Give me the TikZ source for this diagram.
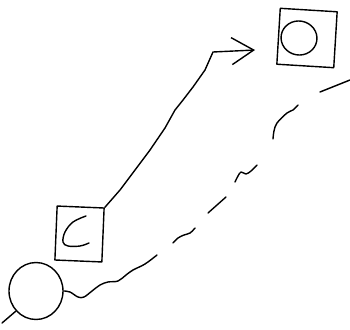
\documentclass[tikz,border=0pt]{standalone}
\usetikzlibrary{arrows.meta,shapes.geometric}
\begin{document}
\begin{tikzpicture}[x=1pt,y=-1pt,
  pen/.style={line width=1.4pt,line cap=round,line join=round,black},
  sketchbox/.style={pen,draw,rectangle,inner sep=0pt},
  sketchring/.style={pen,draw,ellipse,inner sep=0pt}]
\useasboundingbox (0,0) rectangle (350,329);
% boxes
\node[sketchbox,minimum width=47pt,minimum height=54pt,rotate=-2.4] (cbox) at (79.5,234) {};
\node[sketchbox,minimum width=57pt,minimum height=56pt,rotate=-3.5] (obox) at (307,38) {};
\node[sketchring,minimum width=36pt,minimum height=34pt,rotate=-10] (oring) at (299,38) {};
\node[sketchring,minimum width=54pt,minimum height=57pt] (ball) at (36,291) {};
% the C
\draw[pen] plot[smooth,tension=0.6] coordinates {(86,216) (73,222) (65,232) (63,242) (68,246) (80,246) (89,243)};
% arrow
\coordinate (bend) at (213,52);
\coordinate (tip) at (255,50);
\draw[pen,-{Straight Barb[length=22pt,width=27pt,line width=1.4pt]}]
  (cbox.north east) -- (120,190) -- (150,150) -- (165,128) -- (175,110) -- (183,100) -- (193,87) -- (205,70) -- (bend) -- (tip);
% tail of the ball
\coordinate (tailend) at (2,323);
\draw[pen] (ball.225) -- (tailend);
% wavy line
\draw[pen] plot[smooth,tension=0.6] coordinates {(ball.east) (70,292) (78,297) (84,297) (92,291) (100,285) (108,282) (118,281) (126,275) (133,270) (145,264) (157,255)};
% dashes
\draw[pen] plot[smooth,tension=0.6] coordinates {(173,243) (178,238) (184,235) (190,233) (195,228)};
\draw[pen] (208,213) -- (226,197);
\draw[pen] plot[smooth,tension=0.5] coordinates {(235,182) (238,176) (241,172) (246,174) (251,171) (257,165)};
\draw[pen] plot[smooth,tension=0.6] coordinates {(273,139) (274,131) (277,123) (287,113) (293,110) (298,105)};
\draw[pen] (320,92) -- (335,86) -- (350,80);
\end{tikzpicture}
\end{document}
